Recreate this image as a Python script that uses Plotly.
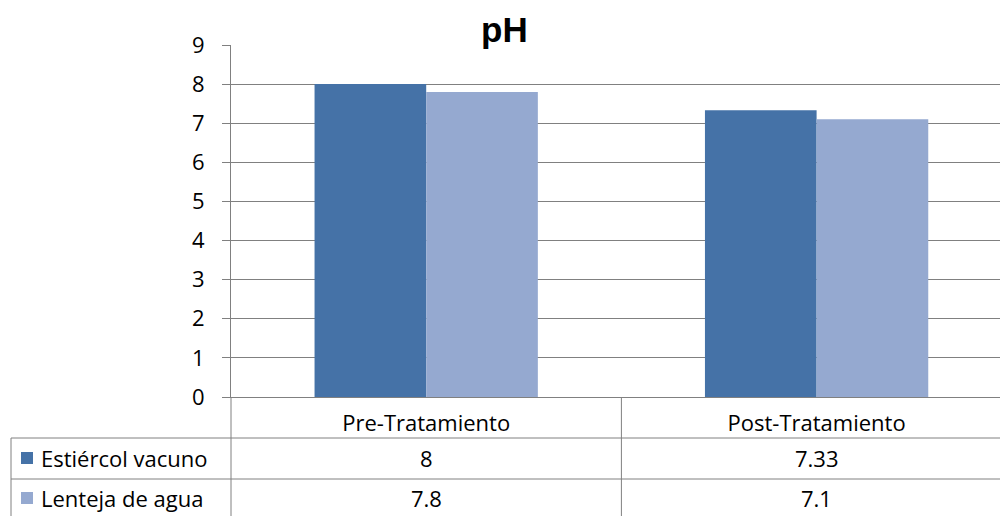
import plotly.graph_objects as go

categories = ["Pre-Tratamiento", "Post-Tratamiento"]
series_names = ["Estiércol vacuno", "Lenteja de agua"]
estiercol = [8, 7.33]
lenteja = [7.8, 7.1]
table_text = [["8", "7.33"], ["7.8", "7.1"]]
y_ticks = [0, 1, 2, 3, 4, 5, 6, 7, 8, 9]
colors = ["#4572A7", "#95A9D0"]

W, H = 1000, 516
L, R, T, B = 231, 0, 45, 119
PW, PH = W - L - R, H - T - B

def px(x):
    return (x - L) / PW

def py(y):
    return (H - B - y) / PH

FONT = "Open Sans, Liberation Sans, Arial, sans-serif"
GRID = "#808080"
FS = 22

fig = go.Figure()
for name, vals, col in zip(series_names, [estiercol, lenteja], colors):
    fig.add_trace(go.Bar(x=categories, y=vals, name=name, marker_color=col,
                         marker_line_width=0, showlegend=False))

cat_w = 390.4
fig.update_layout(
    width=W, height=H,
    margin=dict(l=L, r=R, t=T, b=B, pad=0),
    paper_bgcolor="white", plot_bgcolor="white",
    barmode="group", bargap=0.428, bargroupgap=0,
    font=dict(family=FONT, size=FS, color="black"),
    xaxis=dict(range=[-0.5, -0.5 + PW / cat_w], showgrid=False,
               showline=True, linecolor=GRID, linewidth=1,
               ticks="", tickfont=dict(size=FS), ticklabelstandoff=7),
    yaxis=dict(range=[0, 9], tickvals=y_ticks, showgrid=True, gridcolor=GRID,
               gridwidth=1, showline=True, linecolor=GRID, linewidth=1,
               ticks="outside", ticklen=8, tickcolor=GRID, zeroline=False,
               tickfont=dict(size=FS), ticklabelstandoff=13),
)

# Title
fig.add_annotation(text="<b>pH</b>", xref="paper", yref="paper",
                   x=px(504), y=py(29), xanchor="center", yanchor="middle",
                   showarrow=False,
                   font=dict(family="Liberation Sans, Arial, sans-serif", size=35, color="black"))

line = dict(color=GRID, width=1)
row_top, row_mid, row_bot = 438, 479, 520
# table borders
fig.add_shape(type="line", xref="paper", yref="paper", x0=px(11), x1=px(1000), y0=py(row_top), y1=py(row_top), line=line)
fig.add_shape(type="line", xref="paper", yref="paper", x0=px(11), x1=px(1000), y0=py(row_mid), y1=py(row_mid), line=line)
fig.add_shape(type="line", xref="paper", yref="paper", x0=px(11), x1=px(11), y0=py(row_top), y1=py(row_bot), line=line)
fig.add_shape(type="line", xref="paper", yref="paper", x0=0, x1=0, y0=0, y1=py(row_bot), line=line)
fig.add_shape(type="line", xref="x", yref="paper", x0=0.5, x1=0.5, y0=0, y1=py(row_bot), line=line)

# table rows
for r, (name, col, texts) in enumerate(zip(series_names, colors, table_text)):
    yc = 458 + r * 40
    fig.add_shape(type="rect", xref="paper", yref="paper",
                  x0=px(21), x1=px(33), y0=py(yc - 6), y1=py(yc + 6),
                  fillcolor=col, line=dict(width=0))
    fig.add_annotation(text=name, xref="paper", yref="paper", x=px(39), y=py(yc),
                       xanchor="left", yanchor="middle", showarrow=False,
                       font=dict(size=FS))
    for c, t in enumerate(texts):
        fig.add_annotation(text=t, xref="x", yref="paper", x=categories[c], y=py(yc),
                           xanchor="center", yanchor="middle", showarrow=False,
                           font=dict(size=FS))

fig.write_html("out.html", config={"displayModeBar": False},
               post_script="document.body.style.margin='0';document.body.style.overflow='hidden';")
